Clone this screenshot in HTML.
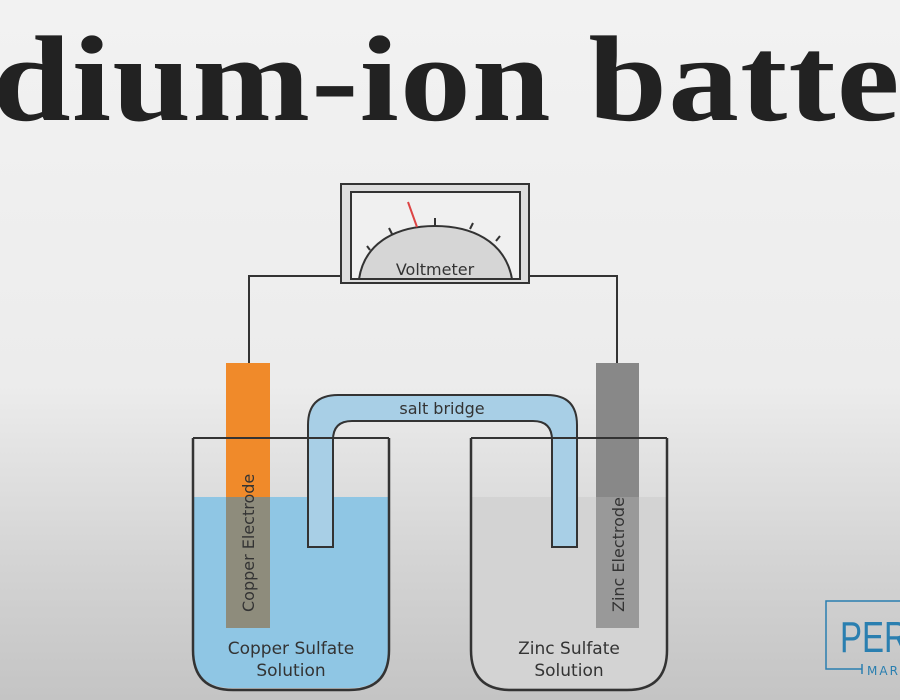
<!DOCTYPE html>
<html><head><style>
html,body{margin:0;padding:0}
body{width:900px;height:700px;overflow:hidden;position:relative;background:linear-gradient(#f2f2f2 0%,#ececec 55%,#d4d4d4 80%,#c4c4c4 100%);}
.t{position:absolute;left:-8px;top:19px;font-family:"Liberation Serif",serif;font-weight:bold;font-size:122px;line-height:1;color:#222;white-space:nowrap;letter-spacing:1px;transform:scaleX(1.16);transform-origin:0 0}
</style></head><body>
<div class="t">dium-ion batte</div>
<svg width="900" height="700" style="position:absolute;left:0;top:0" font-family="DejaVu Sans, sans-serif">
<g stroke="#333" stroke-width="2" fill="none">
<polyline points="249,363 249,276 341,276"/>
<polyline points="617,363 617,276 529,276"/>
</g>
<rect x="341" y="184" width="188" height="99" fill="#ddd" stroke="#333" stroke-width="2"/>
<rect x="351" y="192" width="169" height="87" fill="#f0f0f0" stroke="#333" stroke-width="2"/>
<path d="M359,279 C365,240 400,226 435,226 C470,226 505,240 512,279 Z" fill="#d6d6d6" stroke="#333" stroke-width="2"/>
<g stroke="#333" stroke-width="2">
<line x1="370" y1="250" x2="367" y2="246"/><line x1="392" y1="234" x2="389" y2="228"/>
<line x1="435" y1="226" x2="435" y2="218"/><line x1="470" y1="229" x2="473" y2="223"/><line x1="496" y1="241" x2="500" y2="236"/>
</g>
<line x1="417" y1="227" x2="408" y2="202" stroke="#d44" stroke-width="2"/>
<text x="435" y="275" font-size="16" text-anchor="middle" fill="#333">Voltmeter</text>
<path d="M194,497 H388 V650 Q388,688 350,688 H232 Q194,688 194,650 Z" fill="#8fc6e4"/>
<path d="M472,497 H666 V650 Q666,688 628,688 H510 Q472,688 472,650 Z" fill="#d3d3d3"/>
<rect x="226" y="363" width="44" height="134" fill="#f08a2a"/>
<rect x="226" y="497" width="44" height="131" fill="#8e8c7c"/>
<rect x="596" y="363" width="43" height="134" fill="#888"/>
<rect x="596" y="497" width="43" height="131" fill="#999"/>
<path d="M308,547 V425 Q308,395 338,395 H547 Q577,395 577,425 V547 H552 V440 Q552,421 533,421 H352 Q333,421 333,440 V547 Z" fill="#a8cfe6" stroke="#333" stroke-width="2"/>
<text x="442" y="414" font-size="16" text-anchor="middle" fill="#333">salt bridge</text>
<path d="M193,438 V650 Q193,690 233,690 H349 Q389,690 389,650 V438" fill="none" stroke="#333" stroke-width="2.5"/>
<path d="M471,438 V650 Q471,690 511,690 H627 Q667,690 667,650 V438" fill="none" stroke="#333" stroke-width="2.5"/>
<line x1="193" y1="438" x2="389" y2="438" stroke="#333" stroke-width="2"/>
<line x1="471" y1="438" x2="667" y2="438" stroke="#333" stroke-width="2"/>
<text transform="translate(254,612) rotate(-90)" font-size="16" fill="#333">Copper Electrode</text>
<text transform="translate(624,612) rotate(-90)" font-size="16" fill="#333">Zinc Electrode</text>
<text x="291" y="654" font-size="17" text-anchor="middle" fill="#333">Copper Sulfate</text>
<text x="291" y="676" font-size="17" text-anchor="middle" fill="#333">Solution</text>
<text x="569" y="654" font-size="17" text-anchor="middle" fill="#333">Zinc Sulfate</text>
<text x="569" y="676" font-size="17" text-anchor="middle" fill="#333">Solution</text>
<polyline points="900,601 826,601 826,669 862,669" fill="none" stroke="#2a7fb0" stroke-width="1.5"/>
<line x1="862" y1="664" x2="862" y2="674" stroke="#2a7fb0" stroke-width="1.5"/>
<text x="0" y="0" font-size="44" fill="#2a7fb0" font-family="Liberation Sans, sans-serif" transform="translate(840,652) scale(0.75,1)">PERS</text>
<text x="867" y="675" font-size="12" fill="#2a7fb0" letter-spacing="2">MARK</text>
</svg>
</body></html>
